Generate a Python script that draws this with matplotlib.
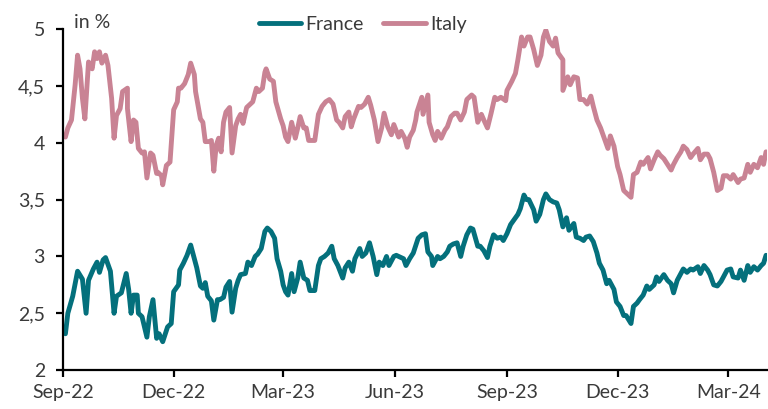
import numpy as np
import pandas as pd
import matplotlib
matplotlib.use("Agg")
import matplotlib.pyplot as plt
import matplotlib.dates as mdates
from matplotlib.ticker import FixedLocator, FuncFormatter

# 10y government bond yields, in %, days counted from 1 Sep 2022
start = pd.Timestamp("2022-09-01")
end = pd.Timestamp("2024-04-02")

italy_days = [2, 4, 7, 10, 12, 14, 16, 18, 21, 24, 26, 28, 30, 32, 35, 37, 40, 42, 44, 47,
              49, 53, 53, 56, 58, 60, 62, 65, 67, 69, 72, 74, 77, 78, 81, 82, 85, 88, 91, 94,
              95, 97, 100, 103, 105, 108, 109, 113, 115, 117, 120, 122, 124, 126, 128, 130, 132, 134, 137, 139,
              142, 144, 146, 148, 151, 154, 156, 159, 161, 164, 166, 167, 170, 173, 175, 179, 181, 183, 185, 188,
              191, 193, 195, 198, 200, 202, 207, 210, 213, 216, 219, 222, 225, 227, 230, 232, 235, 237, 239, 243,
              245, 248, 251, 253, 256, 259, 262, 264, 267, 270, 272, 276, 278, 281, 283, 285, 288, 290, 291, 295,
              296, 300, 301, 304, 306, 308, 311, 314, 316, 319, 322, 324, 327, 330, 332, 336, 338, 341, 344, 346,
              349, 352, 355, 357, 360, 364, 365, 369, 372, 374, 377, 379, 382, 384, 387, 390, 393, 395, 397, 400,
              403, 405, 407, 411, 411, 415, 417, 420, 423, 425, 428, 431, 434, 436, 439, 442, 444, 448, 450, 453,
              456, 458, 461, 464, 467, 469, 472, 475, 477, 481, 483, 486, 489, 491, 494, 497, 500, 502, 505, 508,
              510, 513, 516, 518, 522, 524, 527, 530, 532, 535, 538, 541, 543, 546, 549, 551, 555, 557, 560, 563,
              565, 568, 571, 574, 576, 578]
italy = [4.05, 4.13, 4.20, 4.51, 4.77, 4.65, 4.39, 4.21, 4.71, 4.65, 4.80, 4.74, 4.80, 4.70, 4.77, 4.68, 4.39, 4.04, 4.24, 4.30,
         4.45, 4.48, 4.30, 4.01, 4.20, 4.18, 3.95, 3.91, 3.92, 3.69, 3.91, 3.89, 3.73, 3.74, 3.71, 3.63, 3.80, 3.83, 4.29, 4.36,
         4.48, 4.48, 4.52, 4.60, 4.70, 4.60, 4.45, 4.21, 4.18, 4.01, 4.01, 4.02, 3.75, 3.98, 4.04, 3.92, 4.18, 4.27, 4.31, 3.91,
         4.15, 4.21, 4.25, 4.17, 4.31, 4.34, 4.36, 4.48, 4.45, 4.48, 4.62, 4.65, 4.56, 4.54, 4.36, 4.21, 4.15, 4.05, 4.01, 4.18,
         4.04, 4.13, 4.23, 4.13, 4.13, 4.02, 4.02, 4.25, 4.32, 4.36, 4.38, 4.34, 4.20, 4.18, 4.13, 4.23, 4.27, 4.14, 4.21, 4.32,
         4.31, 4.34, 4.40, 4.33, 4.20, 4.01, 4.13, 4.26, 4.14, 4.07, 4.16, 4.05, 4.10, 4.04, 3.96, 4.05, 4.11, 4.20, 4.27, 4.40,
         4.25, 4.42, 4.18, 4.07, 4.02, 4.10, 4.04, 4.11, 4.14, 4.23, 4.26, 4.26, 4.20, 4.27, 4.38, 4.42, 4.40, 4.18, 4.25, 4.20,
         4.13, 4.26, 4.40, 4.38, 4.40, 4.37, 4.46, 4.54, 4.61, 4.73, 4.93, 4.85, 4.93, 4.93, 4.82, 4.68, 4.77, 4.93, 4.99, 4.89,
         4.85, 4.92, 4.79, 4.73, 4.46, 4.58, 4.51, 4.58, 4.57, 4.38, 4.38, 4.34, 4.41, 4.32, 4.20, 4.13, 4.07, 3.95, 4.06, 3.97,
         3.79, 3.72, 3.58, 3.55, 3.52, 3.72, 3.74, 3.83, 3.81, 3.87, 3.77, 3.85, 3.92, 3.89, 3.86, 3.81, 3.76, 3.81, 3.87, 3.92,
         3.97, 3.94, 3.87, 3.90, 3.95, 3.85, 3.90, 3.90, 3.86, 3.74, 3.58, 3.60, 3.71, 3.71, 3.68, 3.72, 3.65, 3.68, 3.69, 3.81,
         3.74, 3.81, 3.78, 3.87, 3.81, 3.92]

france_days = [2, 4, 8, 12, 16, 19, 21, 25, 28, 30, 33, 35, 39, 42, 44, 48, 52, 54, 56, 58,
               61, 62, 65, 69, 71, 74, 77, 79, 82, 86, 89, 91, 95, 96, 99, 102, 105, 107, 110, 113,
               115, 117, 119, 122, 124, 127, 129, 132, 134, 137, 139, 142, 144, 146, 150, 152, 155, 158, 160, 163,
               166, 168, 171, 174, 176, 179, 181, 183, 185, 188, 190, 193, 195, 198, 201, 203, 207, 210, 212, 215,
               218, 221, 223, 226, 230, 232, 235, 238, 240, 244, 246, 249, 252, 255, 258, 260, 263, 266, 268, 272,
               274, 276, 280, 282, 285, 288, 292, 295, 298, 300, 303, 304, 308, 310, 313, 316, 318, 321, 324, 327,
               329, 332, 335, 337, 341, 343, 346, 349, 351, 354, 357, 360, 362, 365, 368, 370, 374, 376, 379, 381,
               383, 387, 389, 392, 395, 397, 400, 403, 406, 408, 411, 414, 416, 420, 422, 425, 428, 430, 433, 436,
               439, 441, 444, 447, 449, 453, 455, 458, 461, 463, 467, 469, 472, 474, 477, 480, 482, 486, 488, 490,
               494, 497, 500, 502, 505, 508, 510, 513, 516, 518, 522, 524, 527, 530, 532, 535, 538, 541, 543, 546,
               549, 551, 555, 557, 560, 563, 565, 568, 571, 574, 576, 578]
france = [2.32, 2.50, 2.65, 2.87, 2.80, 2.50, 2.79, 2.89, 2.95, 2.86, 2.97, 2.99, 2.87, 2.50, 2.65, 2.68, 2.85, 2.71, 2.50, 2.66,
          2.66, 2.50, 2.47, 2.29, 2.47, 2.62, 2.28, 2.32, 2.25, 2.38, 2.41, 2.69, 2.75, 2.88, 2.94, 3.01, 3.10, 3.02, 2.90, 2.74,
          2.72, 2.77, 2.65, 2.61, 2.44, 2.62, 2.62, 2.64, 2.73, 2.78, 2.51, 2.72, 2.79, 2.84, 2.85, 2.95, 2.92, 3.00, 3.02, 3.07,
          3.22, 3.25, 3.22, 3.16, 2.98, 2.87, 2.75, 2.69, 2.66, 2.85, 2.69, 2.81, 2.95, 2.81, 2.79, 2.70, 2.70, 2.92, 2.98, 3.00,
          3.03, 3.09, 2.98, 2.92, 2.81, 2.90, 2.95, 2.87, 2.98, 3.07, 3.00, 3.03, 3.12, 3.00, 2.84, 2.95, 2.92, 3.00, 2.92, 3.00,
          3.01, 3.00, 2.98, 2.92, 2.98, 3.03, 3.16, 3.19, 3.20, 3.04, 3.00, 2.92, 3.00, 2.98, 3.00, 3.04, 3.09, 3.11, 3.12, 3.00,
          3.09, 3.19, 3.25, 3.24, 3.09, 3.09, 3.05, 2.99, 3.09, 3.19, 3.16, 3.17, 3.14, 3.20, 3.28, 3.31, 3.37, 3.42, 3.54, 3.50,
          3.50, 3.41, 3.31, 3.37, 3.50, 3.55, 3.50, 3.48, 3.47, 3.41, 3.26, 3.34, 3.23, 3.29, 3.17, 3.16, 3.14, 3.17, 3.18, 3.13,
          3.03, 2.94, 2.88, 2.76, 2.79, 2.71, 2.60, 2.56, 2.48, 2.48, 2.41, 2.56, 2.59, 2.62, 2.66, 2.74, 2.71, 2.75, 2.82, 2.78,
          2.84, 2.79, 2.76, 2.68, 2.79, 2.85, 2.89, 2.86, 2.89, 2.88, 2.91, 2.85, 2.92, 2.88, 2.84, 2.75, 2.74, 2.78, 2.82, 2.88,
          2.89, 2.82, 2.81, 2.88, 2.79, 2.92, 2.86, 2.91, 2.88, 2.92, 2.94, 3.01]

tick_dates = ["2022-09-01", "2022-12-01", "2023-03-01", "2023-06-01",
              "2023-09-01", "2023-12-01", "2024-03-01"]
y_ticks = [2, 2.5, 3, 3.5, 4, 4.5, 5]

france_color = "#04707c"
italy_color = "#c98394"
text_color = "#3a3a3a"

plt.rcParams['font.family'] = ['Lato', 'DejaVu Sans']

italy_dates = start + pd.to_timedelta(italy_days, unit="D")
france_dates = start + pd.to_timedelta(france_days, unit="D")

fig = plt.figure(figsize=(7.68, 4.09), dpi=100)
ax = fig.add_axes([0.082, 0.095, 0.917, 0.834])

ax.plot(france_dates, france, color=france_color, linewidth=3.5, label="France",
        solid_joinstyle="round", solid_capstyle="round")
ax.plot(italy_dates, italy, color=italy_color, linewidth=3.5, label="Italy",
        solid_joinstyle="round", solid_capstyle="round")

ax.set_xlim(start, end)
ax.set_ylim(2, 5)

ax.xaxis.set_major_locator(FixedLocator(mdates.date2num(pd.to_datetime(tick_dates))))
ax.xaxis.set_major_formatter(mdates.DateFormatter("%b-%y"))
ax.yaxis.set_major_locator(FixedLocator(y_ticks))
ax.yaxis.set_major_formatter(FuncFormatter(lambda v, p: f"{v:g}".replace(".", ",")))

for side in ["top", "right"]:
    ax.spines[side].set_visible(False)
for side in ["left", "bottom"]:
    ax.spines[side].set_linewidth(1.6)
    ax.spines[side].set_color("black")

ax.tick_params(axis="both", direction="out", length=5, width=1.6, color="black",
               labelsize=14, labelcolor=text_color)
ax.tick_params(axis="x", pad=5)
ax.tick_params(axis="y", pad=8)

fig.text(0.097, 0.945, "in %", fontsize=14, color=text_color, ha="left", va="center")

leg = fig.legend(loc="center", bbox_to_anchor=(0.472, 0.94), ncol=2, frameon=False,
                 fontsize=14, handlelength=2.2, handletextpad=0.2, columnspacing=1.0)
for t in leg.get_texts():
    t.set_color(text_color)

fig.savefig("out.png", dpi=100)
